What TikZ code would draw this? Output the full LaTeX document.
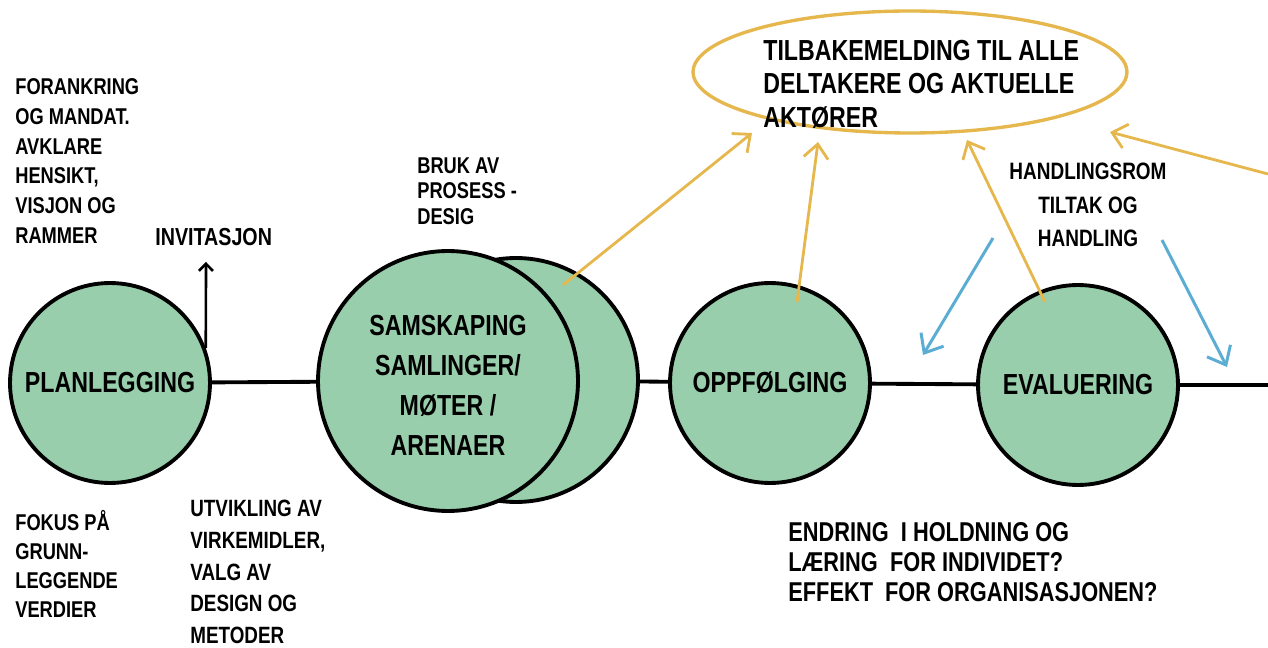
\documentclass[tikz,border=0pt]{standalone}
\usepackage{fontspec}
\setmainfont{Liberation Sans}[FakeStretch=0.8]
\usepackage{tikz}
\usetikzlibrary{arrows.meta,shapes.geometric}
\definecolor{leaf}{RGB}{152,206,172}
\definecolor{gold}{RGB}{229,183,76}
\definecolor{sky}{RGB}{92,173,212}

\begin{document}
\bfseries
\begin{tikzpicture}[x=0.02cm,y=-0.02cm,
  stage/.style={circle,draw=black,line width=2.2pt,fill=leaf,inner sep=0pt,
    minimum size=4cm,align=center,font=\fontsize{16.5}{22.8}\selectfont},
  ring/.style={ellipse,draw=gold,line width=1.9pt,inner sep=0pt,
    minimum width=8.68cm,minimum height=2.44cm},
  note/.style={anchor=north west,inner sep=0pt,align=left,font=\fontsize{13}{17}\selectfont},
  fb/.style={draw=gold,line width=1.6pt,-{Straight Barb[length=8pt,width=14pt]}},
  act/.style={draw=sky,line width=1.7pt,-{Straight Barb[length=9pt,width=15pt]}}]
  \useasboundingbox (0,0) rectangle (1268,648);

  \node[stage] (plan) at (110,383) {PLANLEGGING};
  \node[stage,minimum size=4.88cm] (samskb) at (516,380) {};
  \node[stage,minimum size=5.2cm] (samsk) at (448,381) {\\[-6pt]SAMSKAPING\\SAMLINGER/\\MØTER /\\ARENAER};
  \node[stage] (oppf) at (770,383) {OPPFØLGING};
  \node[stage] (eval) at (1078,385) {EVALUERING};
  \node[ring] (tilb) at (910,72) {};
  \coordinate (end) at (1268,385);
  \coordinate (inv) at (206,262);

  \path[line width=2.2pt]
    (plan) edge (samsk)
    (samskb) edge (oppf)
    (oppf) edge (eval)
    (eval) edge (end);
  \path (plan.20) edge[line width=1.5pt,-{Straight Barb[length=4pt,width=8pt]}] (inv);

  % texts
  \node[note] (forank) at (15,78) {FORANKRING\\OG MANDAT.\\AVKLARE\\HENSIKT,\\VISJON OG\\RAMMER};
  \node[note,font=\fontsize{14}{17}\selectfont] (invit) at (155,228) {INVITASJON};
  \node[note,font=\fontsize{13}{14.7}\selectfont] (bruk) at (417,157) {BRUK AV\\PROSESS -\\DESIG};
  \node[note,font=\fontsize{13}{16.5}\selectfont] (fokus) at (15,510) {FOKUS PÅ\\GRUNN-\\LEGGENDE\\VERDIER};
  \node[note,font=\fontsize{13.4}{18}\selectfont] (utv) at (190,500) {UTVIKLING AV\\VIRKEMIDLER,\\VALG AV\\DESIGN OG\\METODER};
  \node[note,font=\fontsize{16.5}{19}\selectfont] (tilbt) at (763,40) {TILBAKEMELDING TIL ALLE\\DELTAKERE OG AKTUELLE\\AKTØRER};
  \node[note,align=center,anchor=north,font=\fontsize{13.5}{19}\selectfont] (handl) at (1088,163) {HANDLINGSROM\\TILTAK OG\\HANDLING};
  \node[note,font=\fontsize{15.5}{17}\selectfont] (endr) at (788,522) {ENDRING \ I HOLDNING OG\\LÆRING \ FOR INDIVIDET?\\EFFEKT \ FOR ORGANISASJONEN?};

  % feedback arrows
  \coordinate (s1) at (563,285);
  \coordinate (e1) at (752,133);
  \coordinate (s2) at (797,302);
  \coordinate (e2) at (818,142);
  \coordinate (s3) at (1045,302);
  \coordinate (e3) at (967,140);
  \coordinate (s4) at (1268,174);
  \coordinate (e4) at (1110,132);
  \path
    (s1) edge[fb] (e1)
    (s2) edge[fb] (e2)
    (s3) edge[fb] (e3)
    (s4) edge[fb] (e4);

  \coordinate (b1) at (993,238);
  \coordinate (c1) at (923,355);
  \coordinate (b2) at (1162,240);
  \coordinate (c2) at (1227,367);
  \path
    (b1) edge[act] (c1)
    (b2) edge[act] (c2);
\end{tikzpicture}
\end{document}
